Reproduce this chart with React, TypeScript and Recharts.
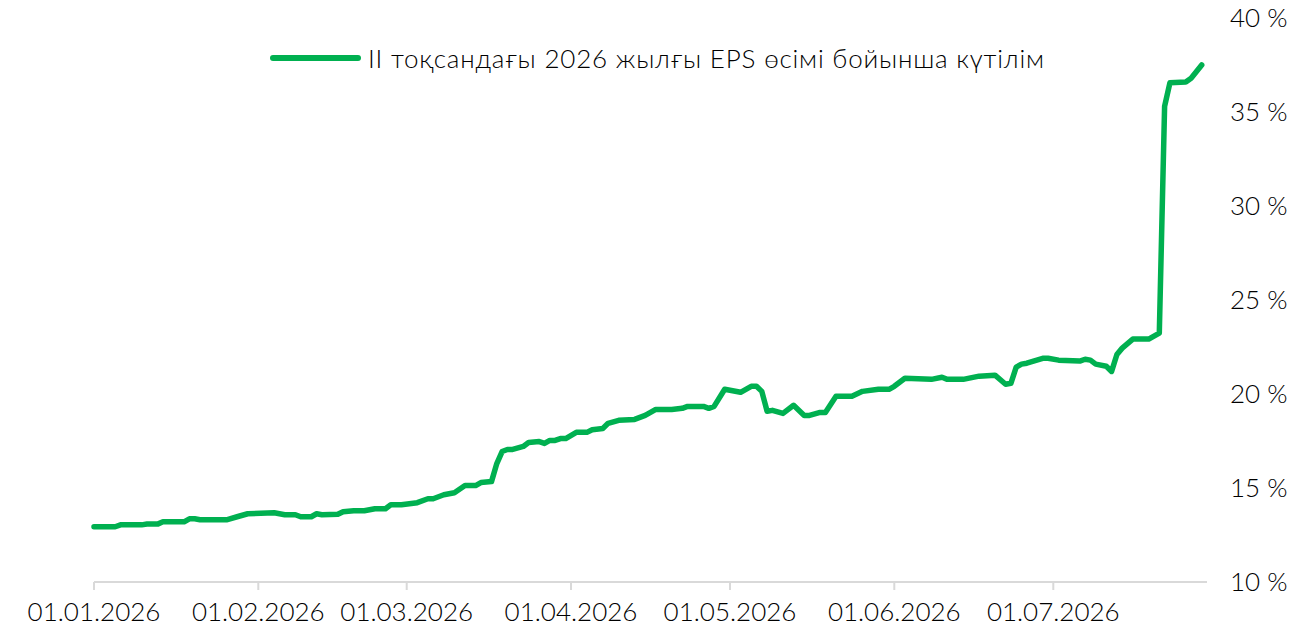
import { LineChart, Line, XAxis, YAxis } from "recharts";

const seriesName = "II тоқсандағы 2026 жылғы EPS өсімі бойынша күтілім";

const dates = [
  "2026-01-01", "2026-01-05", "2026-01-06", "2026-01-10", "2026-01-11", "2026-01-13", "2026-01-14",
  "2026-01-18", "2026-01-19", "2026-01-20", "2026-01-21", "2026-01-26", "2026-01-28", "2026-01-30",
  "2026-02-04", "2026-02-06", "2026-02-08", "2026-02-09", "2026-02-11", "2026-02-12", "2026-02-13",
  "2026-02-16", "2026-02-17", "2026-02-19", "2026-02-21", "2026-02-23", "2026-02-25", "2026-02-26",
  "2026-02-28", "2026-03-03", "2026-03-05", "2026-03-06", "2026-03-08", "2026-03-10", "2026-03-12",
  "2026-03-14", "2026-03-15", "2026-03-17", "2026-03-18", "2026-03-19", "2026-03-20", "2026-03-21",
  "2026-03-23", "2026-03-24", "2026-03-26", "2026-03-27", "2026-03-28", "2026-03-29", "2026-03-30",
  "2026-03-31", "2026-04-02", "2026-04-04", "2026-04-05", "2026-04-07", "2026-04-08", "2026-04-10",
  "2026-04-13", "2026-04-15", "2026-04-17", "2026-04-20", "2026-04-22", "2026-04-23", "2026-04-26",
  "2026-04-27", "2026-04-28", "2026-04-30", "2026-05-03", "2026-05-05", "2026-05-06", "2026-05-07",
  "2026-05-08", "2026-05-09", "2026-05-11", "2026-05-13", "2026-05-15", "2026-05-16", "2026-05-18",
  "2026-05-19", "2026-05-21", "2026-05-24", "2026-05-26", "2026-05-29", "2026-05-31", "2026-06-01",
  "2026-06-03", "2026-06-08", "2026-06-10", "2026-06-11", "2026-06-14", "2026-06-17", "2026-06-20",
  "2026-06-22", "2026-06-23", "2026-06-24", "2026-06-25", "2026-06-26", "2026-06-29", "2026-06-30",
  "2026-07-02", "2026-07-06", "2026-07-07", "2026-07-08", "2026-07-09", "2026-07-11", "2026-07-12",
  "2026-07-13", "2026-07-14", "2026-07-16", "2026-07-19", "2026-07-21", "2026-07-22", "2026-07-23",
  "2026-07-26", "2026-07-27", "2026-07-29",
];

const epsGrowth = [
  12.94, 12.94, 13.04, 13.04, 13.08, 13.08, 13.2,
  13.2, 13.36, 13.36, 13.31, 13.31, 13.47, 13.63,
  13.68, 13.58, 13.58, 13.47, 13.47, 13.63, 13.58,
  13.6, 13.74, 13.79, 13.79, 13.9, 13.9, 14.11,
  14.11, 14.22, 14.43, 14.43, 14.64, 14.75, 15.13,
  15.13, 15.29, 15.34, 16.3, 16.94, 17.05, 17.05,
  17.21, 17.42, 17.47, 17.37, 17.53, 17.53, 17.63,
  17.63, 17.96, 17.96, 18.1, 18.17, 18.44, 18.6,
  18.65, 18.86, 19.18, 19.18, 19.24, 19.34, 19.34,
  19.24, 19.34, 20.25, 20.09, 20.41, 20.41, 20.14,
  19.08, 19.13, 18.97, 19.4, 18.86, 18.86, 19.02,
  19.02, 19.88, 19.88, 20.14, 20.25, 20.25, 20.41,
  20.84, 20.78, 20.89, 20.78, 20.78, 20.95, 21.0,
  20.52, 20.57, 21.43, 21.59, 21.64, 21.9, 21.9,
  21.8, 21.75, 21.85, 21.8, 21.59, 21.48, 21.2,
  22.1, 22.44, 22.92, 22.92, 23.24, 35.3, 36.55,
  36.6, 36.8, 37.5,
];

const xTickDates = ["2026-01-01", "2026-02-01", "2026-03-01", "2026-04-01", "2026-05-01", "2026-06-01", "2026-07-01"];
const yTicks = [10, 15, 20, 25, 30, 35, 40];

const GREEN = "#00b050";
const TEXT = "#000";
const FONT = "Lato, 'Noto Sans', sans-serif";

const DAY = 86400000;
const start = Date.UTC(2026, 0, 1);
const toDay = (iso: string) => {
  const [y, m, d] = iso.split("-").map(Number);
  return Math.round((Date.UTC(y, m - 1, d) - start) / DAY);
};
const fmtDay = (n: number) => {
  const dt = new Date(start + n * DAY);
  const dd = String(dt.getUTCDate()).padStart(2, "0");
  const mm = String(dt.getUTCMonth() + 1).padStart(2, "0");
  return `${dd}.${mm}.${dt.getUTCFullYear()}`;
};

const data = dates.map((d, i) => ({ day: toDay(d), eps: epsGrowth[i] }));
const xTicks = xTickDates.map(toDay);

export default function App() {
  return (
    <div style={{ position: "absolute", left: 0, top: 0, width: 1299, height: 644, background: "#fff" }}>
      <LineChart width={1299} height={644} data={data} margin={{ top: 18, right: 0, bottom: 0, left: 94 }}>
        <XAxis
          dataKey="day"
          type="number"
          domain={[0, 210]}
          ticks={xTicks}
          tickFormatter={fmtDay}
          height={62}
          stroke="#d9d9d9"
          strokeWidth={2}
          tickSize={8}
          tickMargin={13}
          tick={{ fill: TEXT, fontSize: 26, fontFamily: FONT, fontWeight: 300 }}
        />
        <YAxis
          orientation="right"
          domain={[10, 40]}
          ticks={yTicks}
          tickFormatter={(v: number) => `${v} %`}
          width={92}
          axisLine={false}
          tickLine={false}
          tickSize={0}
          tickMargin={23}
          tick={{ fill: TEXT, fontSize: 26, fontFamily: FONT, fontWeight: 300, textAnchor: "start" }}
        />
        <Line
          type="linear"
          dataKey="eps"
          name={seriesName}
          stroke={GREEN}
          strokeWidth={5.5}
          strokeLinejoin="round"
          strokeLinecap="round"
          dot={false}
          isAnimationActive={false}
        />
      </LineChart>
      <div
        style={{
          position: "absolute",
          left: 266,
          top: 40,
          display: "flex",
          alignItems: "center",
          fontFamily: FONT,
          fontSize: 26,
          fontWeight: 300,
          letterSpacing: 0.8,
          color: TEXT,
          whiteSpace: "nowrap",
        }}
      >
        <svg width={96} height={36} style={{ marginRight: 6 }}>
          <line x1={7} y1={18} x2={92} y2={18} stroke={GREEN} strokeWidth={6} strokeLinecap="round" />
        </svg>
        <span>{seriesName}</span>
      </div>
    </div>
  );
}
